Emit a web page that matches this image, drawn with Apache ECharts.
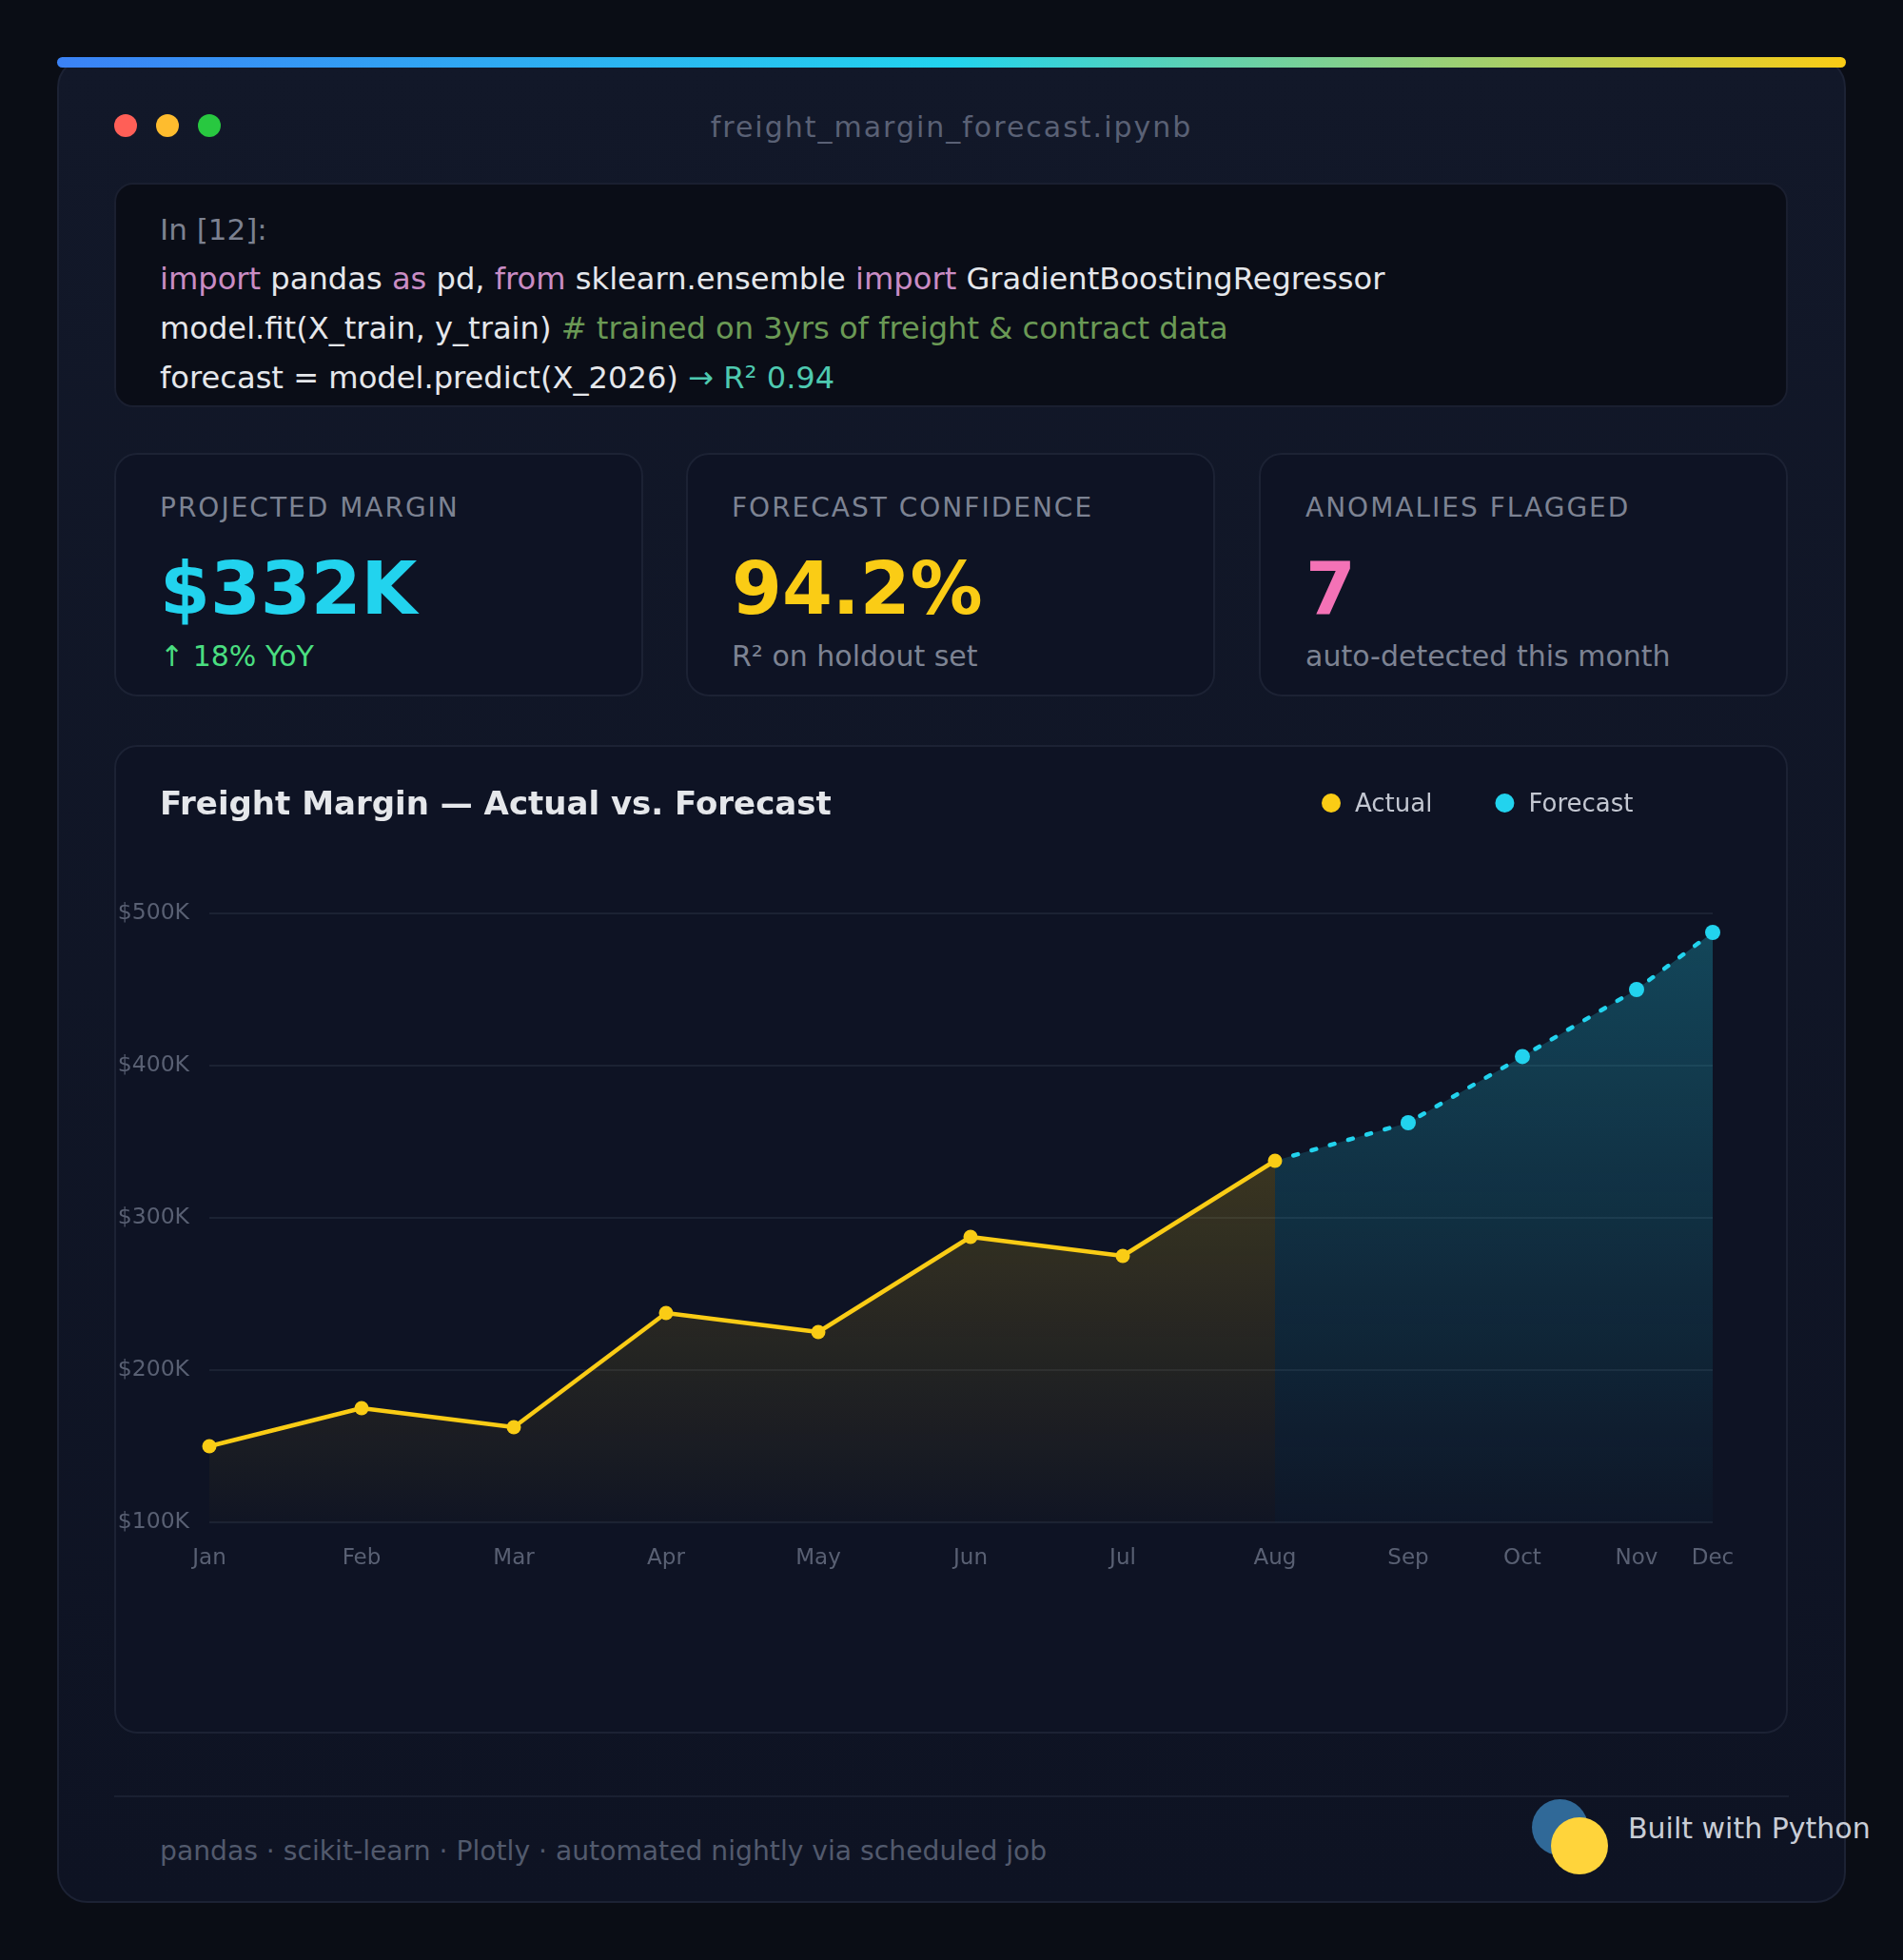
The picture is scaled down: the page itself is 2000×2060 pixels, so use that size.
<!DOCTYPE html>
<html>
<head>
<meta charset="utf-8">
<script src="https://cdn.jsdelivr.net/npm/echarts@6/dist/echarts.min.js"></script>
<style>
  html, body { margin:0; padding:0; }
  body { width:2000px; height:2060px; background:#0a0d15; position:relative; overflow:hidden; font-family:'DejaVu Sans', sans-serif; }
  .abs { position:absolute; white-space:nowrap; }
  #outer { left:60px; top:60px; width:1876px; height:1936px; border:2px solid #1c2234; border-radius:32px;
           background:linear-gradient(180deg,#121829 0%,#0e1323 100%); box-sizing:content-box; }
  #bar { left:60px; top:60px; width:1880px; height:11px; border-radius:6px;
         background:linear-gradient(90deg,#3b82f6 0%,#22d3ee 50%,#facc15 100%); }
  .dot { width:24px; height:24px; border-radius:50%; top:120px; }
  #fname { left:0; width:2000px; text-align:center; top:118.6px; font-size:30px; line-height:30px; letter-spacing:2px; color:#5a6175; }
  #code { left:120px; top:192px; width:1755px; height:232px; background:#0a0d17; border:2px solid #1a1f30; border-radius:20px; }
  #codetext { left:168px; top:214.6px; font-size:32.15px; line-height:52px; color:#e5e7eb; }
  .kw { color:#c98cc4; } .cm { color:#6a9955; } .tl { color:#4ec9b0; } .pr { color:#7c8190; font-size:31px; }
  .card { top:476px; width:552px; height:252px; background:#0e1324; border:2px solid #1c2234; border-radius:24px; }
  .klabel { top:520.3px; font-size:28px; line-height:28px; letter-spacing:2px; color:#7d8393; }
  .kval { top:580.7px; font-size:76px; line-height:76px; font-weight:bold; }
  .ksub { top:674.6px; font-size:30px; line-height:30px; color:#7d8393; }
  #chartcard { left:120px; top:783px; width:1755px; height:1035px; background:#0e1324; border:2px solid #1c2234; border-radius:24px; }
  #chart { left:120px; top:783px; width:1759px; height:1039px; }
  #divider { left:120px; top:1887px; width:1760px; height:2px; background:#1a2031; }
  #footer { left:168px; top:1932.2px; font-size:28.2px; line-height:28px; color:#525a6d; }
  .py { border-radius:50%; }
  #built { left:1711px; top:1906.6px; font-size:30px; line-height:30px; color:#c9cdd6; }
</style>
</head>
<body>
<div id="outer" class="abs"></div>
<div id="bar" class="abs"></div>
<div class="abs dot" style="left:120px;background:#ff5f57"></div>
<div class="abs dot" style="left:164px;background:#febc2e"></div>
<div class="abs dot" style="left:208px;background:#28c840"></div>
<div id="fname" class="abs">freight_margin_forecast.ipynb</div>

<div id="code" class="abs"></div>
<div id="codetext" class="abs"><span class="pr">In [12]:</span><br><span class="kw">import</span> pandas <span class="kw">as</span> pd, <span class="kw">from</span> sklearn.ensemble <span class="kw">import</span> GradientBoostingRegressor<br>model.fit(X_train, y_train) <span class="cm"># trained on 3yrs of freight &amp; contract data</span><br>forecast = model.predict(X_2026) <span class="tl">→ R² 0.94</span></div>

<div class="abs card" style="left:120px"></div>
<div class="abs card" style="left:721px"></div>
<div class="abs card" style="left:1323px"></div>
<div class="abs klabel" style="left:168px">PROJECTED MARGIN</div>
<div class="abs kval" style="left:168px;color:#22d3ee">$332K</div>
<div class="abs ksub" style="left:168px;color:#4ade80">↑ 18% YoY</div>
<div class="abs klabel" style="left:769px">FORECAST CONFIDENCE</div>
<div class="abs kval" style="left:769px;color:#facc15">94.2%</div>
<div class="abs ksub" style="left:769px">R² on holdout set</div>
<div class="abs klabel" style="left:1372px">ANOMALIES FLAGGED</div>
<div class="abs kval" style="left:1372px;color:#f472b6">7</div>
<div class="abs ksub" style="left:1372px">auto-detected this month</div>

<div id="chartcard" class="abs"></div>
<div id="chart" class="abs"></div>

<div id="divider" class="abs"></div>
<div id="footer" class="abs">pandas · scikit-learn · Plotly · automated nightly via scheduled job</div>
<div class="abs py" style="left:1610px;top:1890.5px;width:59px;height:59px;background:#306998"></div>
<div class="abs py" style="left:1630px;top:1910px;width:60px;height:60px;background:#ffd43b"></div>
<div id="built" class="abs">Built with Python</div>

<script>
// ---- data (values in $K) ----
const months = ['Jan','Feb','Mar','Apr','May','Jun','Jul','Aug','Sep','Oct','Nov','Dec'];
const monthPos = [0, 1, 2, 3, 4, 5, 6, 7, 7.875, 8.625, 9.375, 9.875];
const actualK = [150, 175, 162.5, 237.5, 225, 287.5, 275, 337.5];          // Jan..Aug
const forecastK = [337.5, 362.5, 406, 450, 487.5];                          // Aug..Dec
const yMin = 100, yMax = 500, yStep = 100;

const actualData = actualK.map((v, i) => [monthPos[i], v]);
const forecastStart = actualK.length - 1;
const forecastData = forecastK.map((v, i) => [monthPos[forecastStart + i], v]);

const chart = echarts.init(document.getElementById('chart'), null, { renderer: 'canvas' });
const FONT = 'DejaVu Sans';
chart.setOption({
  animation: false,
  backgroundColor: 'transparent',
  textStyle: { fontFamily: FONT },
  title: {
    text: 'Freight Margin — Actual vs. Forecast',
    left: 48, top: 47, padding: 0,
    textStyle: { fontSize: 34, fontWeight: 'bold', color: '#e5e7eb', lineHeight: 34, fontFamily: FONT }
  },
  legend: {
    data: ['Actual', 'Forecast'],
    left: 1269, top: 46, padding: 0,
    icon: 'circle', itemWidth: 20, itemHeight: 20, itemGap: 66,
    selectedMode: false,
    formatter: name => '{t|' + name + '}',
    textStyle: {
      color: '#c3c7d1', fontSize: 26, fontFamily: FONT,
      rich: { t: { color: '#c3c7d1', fontSize: 26, lineHeight: 26, fontFamily: FONT, padding: [4, 0, 0, 10] } }
    }
  },
  grid: { left: 100, right: 79, top: 177, bottom: 222, containLabel: false, outerBoundsMode: 'none' },
  xAxis: {
    type: 'value', min: monthPos[0], max: monthPos[monthPos.length - 1],
    axisLine: { show: false }, axisTick: { show: false }, splitLine: { show: false },
    axisLabel: {
      customValues: monthPos,
      formatter: v => months[monthPos.indexOf(v)] || '',
      color: '#596073', fontSize: 23, margin: 27, fontFamily: FONT
    }
  },
  yAxis: {
    type: 'value', min: yMin, max: yMax, interval: yStep,
    axisLine: { show: false }, axisTick: { show: false },
    splitLine: { show: true, lineStyle: { color: 'rgba(148,163,184,0.10)', width: 2 } },
    axisLabel: { formatter: '${value}K', color: '#596073', fontSize: 23.5, margin: 21, fontFamily: FONT }
  },
  series: [
    {
      name: 'Forecast', type: 'line', data: forecastData, z: 2,
      symbol: 'circle', symbolSize: (v, p) => (p.dataIndex === 0 ? 0 : 16),
      itemStyle: { color: '#22d3ee' },
      lineStyle: { color: '#22d3ee', width: 4.5, type: [5, 15], cap: 'round' },
      areaStyle: {
        color: new echarts.graphic.LinearGradient(0, 0, 0, 1, [
          { offset: 0, color: 'rgba(34,211,238,0.38)' },
          { offset: 1, color: 'rgba(34,211,238,0.03)' }
        ])
      }
    },
    {
      name: 'Actual', type: 'line', data: actualData, z: 3,
      symbol: 'circle', symbolSize: 15,
      itemStyle: { color: '#facc15' },
      lineStyle: { color: '#facc15', width: 4.5 },
      areaStyle: {
        color: new echarts.graphic.LinearGradient(0, 0, 0, 1, [
          { offset: 0, color: 'rgba(250,204,21,0.27)' },
          { offset: 1, color: 'rgba(250,204,21,0.02)' }
        ])
      }
    }
  ]
});
</script>
</body>
</html>
